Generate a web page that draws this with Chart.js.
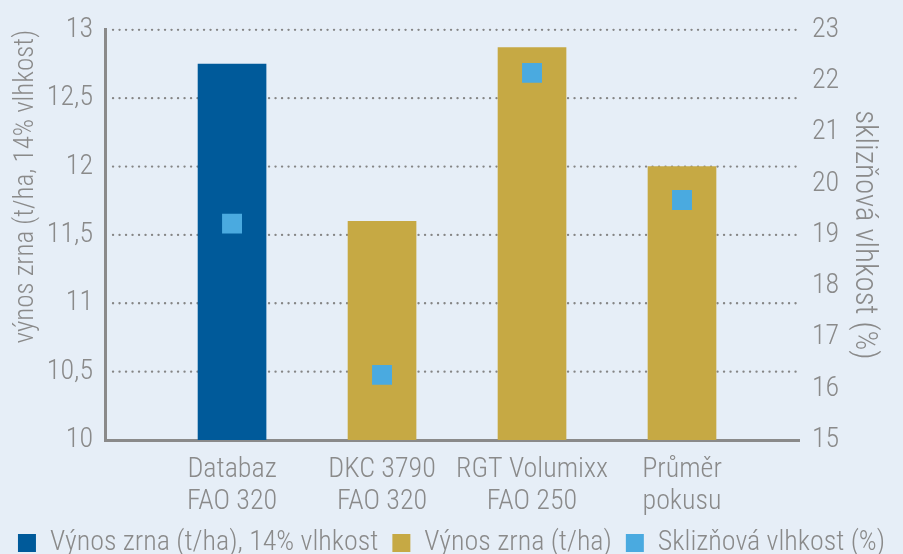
<!DOCTYPE html>
<html>
<head>
<meta charset="utf-8">
<script src="https://cdn.jsdelivr.net/npm/chart.js@4/dist/chart.umd.min.js"></script>
<style>
  html, body { margin: 0; padding: 0; background: #e6eef7; }
  #wrap { width: 903px; height: 554px; }
</style>
</head>
<body>
<div id="wrap"><canvas id="chart" width="903" height="554"></canvas></div>
<script>
// chart data
const categories = [["Databaz", "FAO 320"], ["DKC 3790", "FAO 320"], ["RGT Volumixx", "FAO 250"], ["Průměr", "pokusu"]];
const yield14 = [12.75, null, null, null];
const yieldPlain = [null, 11.6, 12.87, 12.0];
const moisture = [19.22, 16.27, 22.16, 19.68];
const leftTicks = [10, 10.5, 11, 11.5, 12, 12.5, 13];
const rightTicks = [15, 16, 17, 18, 19, 20, 21, 22, 23];

const FAMILY = "'Roboto Condensed', Roboto, sans-serif";
const GREY = '#8a8a8a';
const fnt = (size, lh) => ({ family: FAMILY, weight: '300', size: size, lineHeight: lh || 1.2 });

const toPoints = arr => arr.map((v, i) => ({ x: i, y: v })).filter(p => p.y !== null);

Chart.defaults.font.family = FAMILY;
Chart.defaults.font.weight = '300';
Chart.defaults.font.size = 28;
Chart.defaults.color = GREY;

new Chart(document.getElementById('chart'), {
    data: {
        datasets: [
            {
                type: 'bar',
                label: 'Výnos zrna (t/ha), 14% vlhkost',
                data: toPoints(yield14),
                backgroundColor: '#005a9a',
                borderWidth: 0,
                barThickness: 68,
                grouped: false,
                order: 2
            },
            {
                type: 'bar',
                label: 'Výnos zrna (t/ha)',
                data: toPoints(yieldPlain),
                backgroundColor: '#c6a944',
                borderWidth: 0,
                barThickness: 68,
                grouped: false,
                order: 2
            },
            {
                type: 'scatter',
                label: 'Sklizňová vlhkost (%)',
                data: toPoints(moisture),
                yAxisID: 'y1',
                backgroundColor: '#4aaae0',
                borderWidth: 0,
                pointStyle: 'rect',
                pointRadius: 14.1,
                order: 1
            }
        ]
    },
    options: {
        responsive: false,
        animation: false,
        layout: { padding: { top: 24, left: 0, right: 0, bottom: -13 } },
        plugins: {
            tooltip: { enabled: false },
            legend: {
                position: 'bottom',
                labels: {
                    boxWidth: 18,
                    boxHeight: 18,
                    padding: 14,
                    font: fnt(28),
                    color: GREY,
                    sort: (a, b) => a.datasetIndex - b.datasetIndex
                }
            }
        },
        scales: {
            x: {
                type: 'linear',
                min: -0.847,
                max: 3.78,
                offset: false,
                grid: { display: false, drawTicks: false },
                border: { color: GREY, width: 3 },
                afterBuildTicks: s => { s.ticks = categories.map((c, i) => ({ value: i })); },
                afterFit: s => { s.height = 75; },
                ticks: {
                    padding: 14,
                    maxRotation: 0,
                    autoSkip: false,
                    font: fnt(28, 1.15),
                    callback: v => categories[v]
                }
            },
            y: {
                position: 'left',
                min: 10,
                max: 13,
                afterBuildTicks: s => { s.ticks = leftTicks.map(v => ({ value: v })); },
                afterFit: s => { s.width = 105; },
                grid: { display: false, drawTicks: false },
                border: { color: GREY, width: 3 },
                ticks: {
                    padding: 12,
                    font: fnt(28),
                    callback: v => String(v).replace('.', ',')
                },
                title: {
                    display: true,
                    text: 'výnos zrna (t/ha, 14% vlhkost)',
                    font: fnt(27),
                    align: 'end',
                    padding: { top: 10, bottom: 0 }
                }
            },
            y1: {
                position: 'right',
                min: 15,
                max: 23,
                afterBuildTicks: s => { s.ticks = rightTicks.map(v => ({ value: v })); },
                afterFit: s => { s.width = 104; },
                grid: { display: false, drawTicks: false },
                border: { display: false },
                ticks: { padding: 13, font: fnt(28) },
                title: {
                    display: true,
                    text: 'sklizňová vlhkost (%)',
                    font: fnt(31),
                    padding: { top: 21, bottom: 0 }
                }
            }
        }
    },
    plugins: [{
        // dotted horizontal grid lines, like the original
        id: 'dottedGrid',
        beforeDatasetsDraw(chart) {
            const { ctx, chartArea, scales } = chart;
            ctx.save();
            ctx.strokeStyle = '#858585';
            ctx.lineWidth = 2.3;
            ctx.lineCap = 'round';
            ctx.setLineDash([0.1, 6.4]);
            leftTicks.slice(1).forEach(v => {
                const y = scales.y.getPixelForValue(v);
                ctx.beginPath();
                ctx.moveTo(chartArea.left + 8, y);
                ctx.lineTo(chartArea.right - 2, y);
                ctx.stroke();
            });
            ctx.restore();
        }
    }]
});
</script>
</body>
</html>
